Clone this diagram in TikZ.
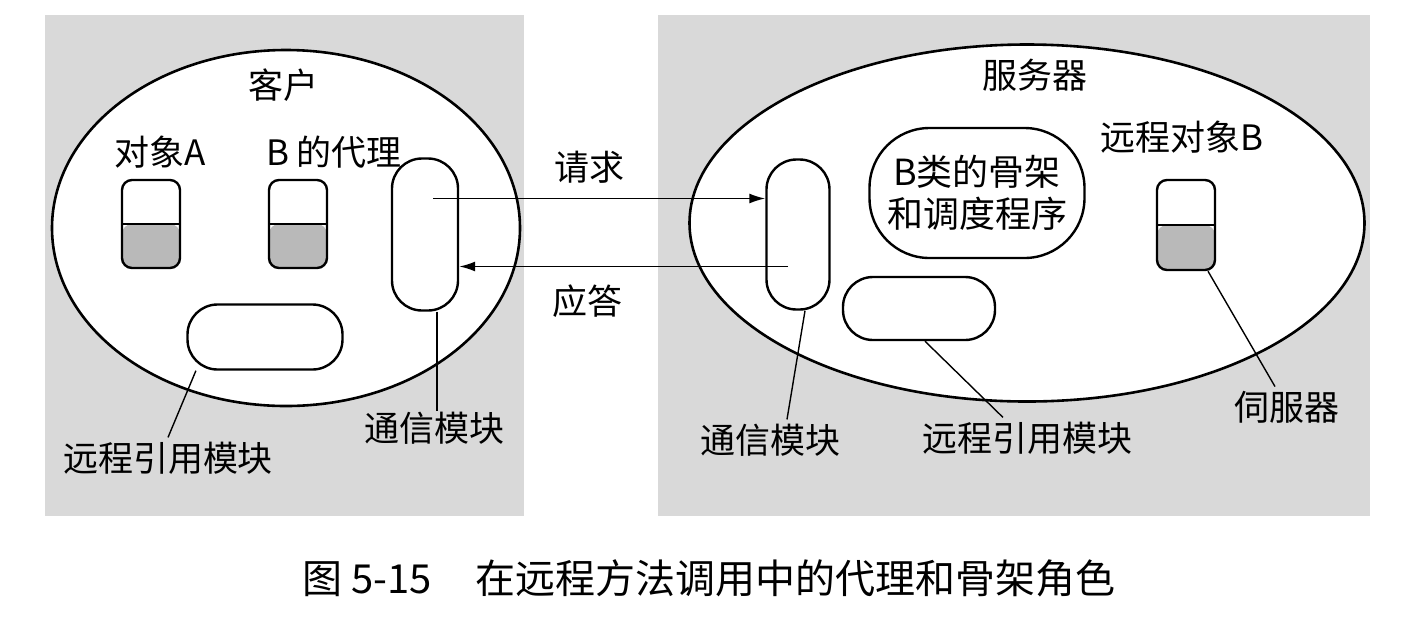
\documentclass[tikz,border=0pt]{standalone}
\usepackage{fontspec}
\setmainfont{Noto Sans CJK SC}
\usetikzlibrary{positioning}
\usetikzlibrary{arrows.meta}
\usetikzlibrary{shapes.geometric}

\begin{document}
\begin{tikzpicture}[x=0.5pt,y=-0.5pt,
    txt/.style={font=\fontsize{17.5}{21}\selectfont, inner sep=2pt},
    zone/.style={draw, ellipse, line width=1.3pt, fill=white, inner sep=0pt},
    objbox/.style={draw, line width=1.2pt, rounded corners=5pt, minimum width=29pt, minimum height=44pt,
        path picture={\fill[gray!55] (path picture bounding box.west) rectangle (path picture bounding box.south east);
                      \draw[line width=0.8pt] (path picture bounding box.west) -- (path picture bounding box.east);}},
    pill/.style={draw, line width=1.2pt, rounded corners=15pt, fill=white, inner sep=0pt},
    leader/.style={line width=0.7pt},
    msg/.style={line width=0.8pt, -{Latex[length=8pt,width=5pt]}}]
    \useasboundingbox (0,0) rectangle (1426,618);
    \fill[gray!30] (45,15) rectangle (524,516);
    \fill[gray!30] (658,15) rectangle (1370,516);

    % client side
    \node[zone, minimum width=234pt, minimum height=178pt] (client) at (286,228) {};
    \node[txt] (lblClient) at (283,85) {客户};
    \node[txt] (lblObjA) at (160,152) {对象A};
    \node[txt] (lblProxy) at (334,152) {B 的代理};
    \node[objbox] (objA) at (151,224) {};
    \node[objbox] (proxy) at (298,224) {};
    \node[pill, minimum width=33pt, minimum height=76pt] (commL) at (425,234.5) {};
    \node[pill, minimum width=77.5pt, minimum height=32.5pt] (refL) at (265,337) {};
    \node[txt] (lblRefL) at (168,458) {远程引用模块};
    \node[txt] (lblCommL) at (434,428) {通信模块};
    \draw[leader] (refL.206) -- (lblRefL.north);
    \draw[leader] ([xshift=6pt]commL.south) -- ([xshift=1.5pt,yshift=-2pt]lblCommL.north);

    % server side
    \node[zone, minimum width=337.5pt, minimum height=178.5pt] (server) at (1027,223) {};
    \node[txt] (lblServer) at (1035,75) {服务器};
    \node[pill, minimum width=31.5pt, minimum height=75pt] (commR) at (798,234.5) {};
    \node[pill, rounded corners=30pt, minimum width=107.5pt, minimum height=65pt, align=center,
        font=\fontsize{18}{21}\selectfont] (skel) at (977,193) {B类的骨架\\和调度程序};
    \node[pill, minimum width=76pt, minimum height=31.5pt] (refR) at (919,308.5) {};
    \node[txt] (lblObjB) at (1182,137) {远程对象B};
    \node[objbox, minimum height=45pt] (objB) at (1186,225) {};
    \node[txt] (lblCommR) at (770,440) {通信模块};
    \node[txt] (lblRefR) at (1027,438) {远程引用模块};
    \node[txt] (lblServant) at (1287,407) {伺服器};
    \draw[leader] ([xshift=3.5pt]commR.south) -- ([xshift=8.5pt]lblCommR.north);
    \draw[leader] ([xshift=3pt]refR.south) -- ([xshift=-12pt]lblRefR.north);
    \draw[leader] ([xshift=11pt]objB.south) -- ([xshift=-6pt]lblServant.north);

    % messages
    \draw[msg] ([xshift=4pt,yshift=18pt]commL.center) -- node[txt, above=5pt, pos=0.47] (lblReq) {请求} ([yshift=18pt]commR.west);
    \draw[msg] ([xshift=-5pt,yshift=-16pt]commR.center) -- node[txt, below=7pt, pos=0.61] (lblRep) {应答} ([yshift=-16pt]commL.east);

    \node[anchor=west, font=\fontsize{20}{24}\selectfont, inner sep=0pt] (caption) at (302,578)
        {图 5-15\hspace{1.1em}在远程方法调用中的代理和骨架角色};
\end{tikzpicture}
\end{document}
